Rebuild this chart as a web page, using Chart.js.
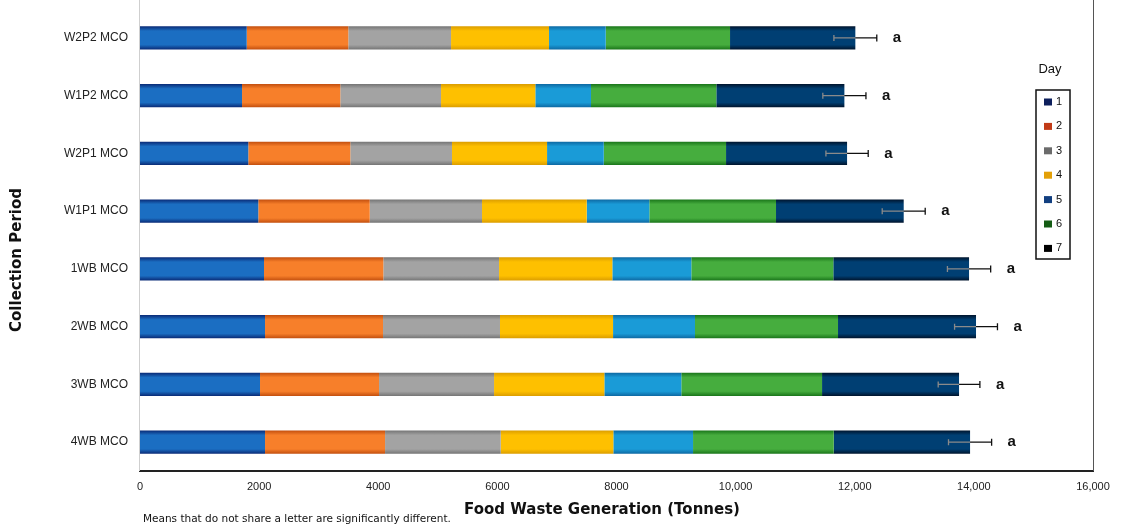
<!DOCTYPE html>
<html>
<head>
<meta charset="utf-8">
<script src="https://cdn.jsdelivr.net/npm/chart.js@4"></script>
<style>
  html, body { margin: 0; padding: 0; background: #fff; }
  #wrap { width: 1121px; height: 530px; position: relative; }
</style>
</head>
<body>
<div id="wrap"><canvas id="wasteChart"></canvas></div>
<script>
// collection periods, top to bottom
const periods = ['W2P2 MCO', 'W1P2 MCO', 'W2P1 MCO', 'W1P1 MCO', '1WB MCO', '2WB MCO', '3WB MCO', '4WB MCO'];

// food waste per day (tonnes)
const day1 = [1792, 1713, 1818, 1986, 2082, 2099, 2015, 2099];
const day2 = [1705, 1650, 1713, 1871, 2003, 1981, 1998, 2015];
const day3 = [1725, 1691, 1707, 1885, 1943, 1964, 1931, 1942];
const day4 = [1645, 1583, 1596, 1758, 1902, 1898, 1852, 1891];
const day5 = [952, 935, 952, 1051, 1326, 1376, 1292, 1338];
const day6 = [2087, 2104, 2053, 2127, 2384, 2401, 2363, 2362];
const day7 = [2104, 2150, 2032, 2144, 2279, 2317, 2300, 2289];

// error on the weekly total and grouping letters
const totalError = [360, 362, 355, 361, 363, 360, 350, 362];
const groupLetters = ['a', 'a', 'a', 'a', 'a', 'a', 'a', 'a'];

const dayLabels = ['1', '2', '3', '4', '5', '6', '7'];
const xTicks = [0, 2000, 4000, 6000, 8000, 10000, 12000, 14000, 16000];

const barColors = [
  ['#1b6ec2', '#0a2c78'],
  ['#f77f2a', '#c4500f'],
  ['#a3a3a3', '#767676'],
  ['#fec000', '#dc9e00'],
  ['#1a9bd7', '#0e6aa4'],
  ['#46ad3e', '#1b771b'],
  ['#003f73', '#00152e']
];
const legendColors = ['#0d1f5c', '#c23b17', '#6b6b6b', '#e3a008', '#123f80', '#145c14', '#000000'];

const BAR_H = 23;

// bevelled look: darker at top and bottom edges of each bar
function bevel(base, edge) {
  return (ctx) => {
    const chart = ctx.chart;
    const y = chart.scales.y;
    if (ctx.type !== 'data' || !y) return base;
    const yc = y.getPixelForValue(ctx.dataIndex);
    if (!Number.isFinite(yc)) return base;
    const g = chart.ctx.createLinearGradient(0, yc - BAR_H / 2, 0, yc + BAR_H / 2);
    g.addColorStop(0, edge);
    g.addColorStop(0.2, base);
    g.addColorStop(0.8, base);
    g.addColorStop(1, edge);
    return g;
  };
}

const series = [day1, day2, day3, day4, day5, day6, day7];

const errorBars = {
  id: 'errorBars',
  afterDatasetsDraw(chart) {
    const { ctx, scales: { x, y } } = chart;
    ctx.save();
    periods.forEach((p, i) => {
      const total = series.reduce((s, d) => s + d[i], 0);
      const yc = y.getPixelForValue(i);
      const xe = x.getPixelForValue(total);
      const xl = x.getPixelForValue(total - totalError[i]);
      const xr = x.getPixelForValue(total + totalError[i]);
      ctx.lineWidth = 1.3;
      // inner half sits on the dark bar
      ctx.strokeStyle = '#8a8a8a';
      ctx.beginPath();
      ctx.moveTo(xl, yc); ctx.lineTo(xe, yc);
      ctx.moveTo(xl, yc - 3); ctx.lineTo(xl, yc + 3);
      ctx.stroke();
      ctx.strokeStyle = '#111';
      ctx.beginPath();
      ctx.moveTo(xe, yc); ctx.lineTo(xr, yc);
      ctx.moveTo(xr, yc - 3.5); ctx.lineTo(xr, yc + 3.5);
      ctx.stroke();
      ctx.fillStyle = '#111';
      ctx.font = 'bold 15px "Liberation Sans", Arial, sans-serif';
      ctx.textAlign = 'left';
      ctx.textBaseline = 'middle';
      ctx.fillText(groupLetters[i], xr + 16, yc);
    });
    ctx.restore();
  }
};

const frameAndNotes = {
  id: 'frameAndNotes',
  afterDraw(chart) {
    const { ctx, chartArea } = chart;
    ctx.save();
    // frame lines
    ctx.lineWidth = 1;
    ctx.strokeStyle = '#cfcfcf';
    ctx.beginPath();
    ctx.moveTo(chartArea.left - 0.5, 0);
    ctx.lineTo(chartArea.left - 0.5, chartArea.bottom);
    ctx.stroke();
    ctx.strokeStyle = '#555';
    ctx.beginPath();
    ctx.moveTo(chartArea.right + 0.5, 0);
    ctx.lineTo(chartArea.right + 0.5, chartArea.bottom);
    ctx.stroke();

    // axis titles
    ctx.fillStyle = '#111';
    ctx.font = 'bold 15px "DejaVu Sans", sans-serif';
    ctx.textAlign = 'center';
    ctx.textBaseline = 'middle';
    ctx.fillText('Food Waste Generation (Tonnes)', 602, 510);
    ctx.save();
    ctx.translate(17, 260);
    ctx.rotate(-Math.PI / 2);
    ctx.fillText('Collection Period', 0, 0);
    ctx.restore();

    // legend box
    const bx = 1036, by = 90, bw = 34, bh = 169;
    ctx.fillStyle = '#fff';
    ctx.fillRect(bx, by, bw, bh);
    ctx.strokeStyle = '#111';
    ctx.lineWidth = 1.5;
    ctx.strokeRect(bx, by, bw, bh);
    ctx.fillStyle = '#111';
    ctx.font = '13px "Liberation Sans", Arial, sans-serif';
    ctx.fillText('Day', 1050, 69);
    ctx.font = '11px "Liberation Sans", Arial, sans-serif';
    ctx.textAlign = 'left';
    dayLabels.forEach((lab, i) => {
      const yc = 102 + i * 24.4;
      ctx.fillStyle = legendColors[i];
      ctx.fillRect(1044, yc - 3.5, 8, 7);
      ctx.fillStyle = '#111';
      ctx.fillText(lab, 1056, yc);
    });

    // footnote
    ctx.font = '10.5px "DejaVu Sans", sans-serif';
    ctx.fillStyle = '#111';
    ctx.textAlign = 'left';
    ctx.fillText('Means that do not share a letter are significantly different.', 143, 519);
    ctx.restore();
  }
};

new Chart(document.getElementById('wasteChart'), {
  type: 'bar',
  data: {
    labels: periods,
    datasets: series.map((d, i) => ({
      label: dayLabels[i],
      data: d,
      backgroundColor: bevel(barColors[i][0], barColors[i][1]),
      borderWidth: 0,
      categoryPercentage: 0.8,
      barPercentage: 0.5
    }))
  },
  options: {
    indexAxis: 'y',
    responsive: true,
    maintainAspectRatio: false,
    animation: false,
    layout: { padding: { top: 9, right: 28, left: 0, bottom: 0 } },
    plugins: {
      legend: { display: false },
      tooltip: { enabled: false }
    },
    scales: {
      x: {
        stacked: true,
        min: 0,
        max: 16000,
        afterBuildTicks: (scale) => { scale.ticks = xTicks.map(v => ({ value: v })); },
        afterFit: (scale) => { scale.height = 59; scale.paddingLeft = 0; scale.paddingRight = 0; },
        ticks: {
          padding: 9,
          color: '#222',
          font: { family: '"Liberation Sans", Arial, sans-serif', size: 11 },
          callback: (v) => v >= 10000 ? v.toLocaleString('en-US') : String(v)
        },
        grid: { display: false, drawTicks: false },
        border: { display: true, color: '#222', width: 2 }
      },
      y: {
        stacked: true,
        afterFit: (scale) => { scale.width = 140; scale.paddingTop = 0; scale.paddingBottom = 0; },
        ticks: {
          padding: 12,
          color: '#222',
          font: { family: '"Liberation Sans", Arial, sans-serif', size: 12 }
        },
        grid: { display: false, drawTicks: false },
        border: { display: false }
      }
    }
  },
  plugins: [errorBars, frameAndNotes]
});
</script>
</body>
</html>
